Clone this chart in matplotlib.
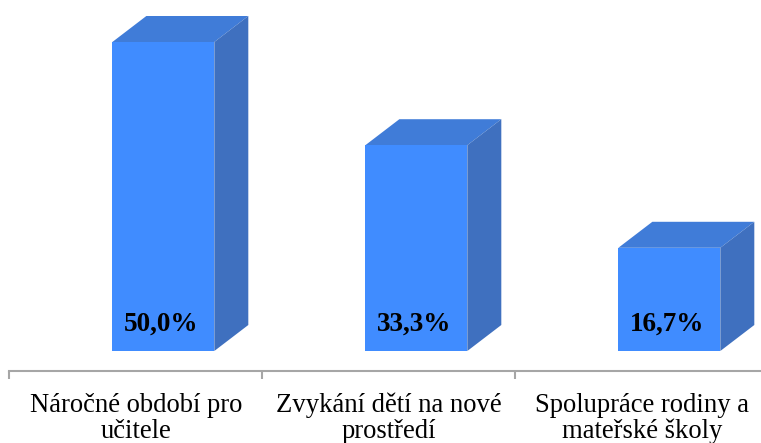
import matplotlib
matplotlib.use("Agg")
import matplotlib.pyplot as plt
from matplotlib.patches import Polygon

categories = ["Náročné období pro\nučitele", "Zvykání dětí na nové\nprostředí", "Spolupráce rodiny a\nmateřské školy"]
values = [50.0, 33.3, 16.7]
value_labels = ["50,0%", "33,3%", "16,7%"]

front_c = "#408CFF"
top_c = "#407CD8"
side_c = "#3F70BF"

W, H = 761, 443
fig = plt.figure(figsize=(W / 100, H / 100), dpi=100)
ax_bottom = 72 / H
ax = fig.add_axes([9 / W, ax_bottom, 1 - 9 / W, 1 - ax_bottom])

px_per_unit_y = 309 / 50.0
ymin = -20 / px_per_unit_y
ymax = 351 / px_per_unit_y
xmin = -0.5
xmax = -0.5 + (W - 9) / 253.0
ax.set_xlim(xmin, xmax)
ax.set_ylim(ymin, ymax)

off = 0.11
bw = 0.403
dx = 34 / 253.0
dy = 26 / px_per_unit_y

xs = list(range(len(values)))
ax.bar([x + off for x in xs], values, width=bw, color=front_c, zorder=3, linewidth=0)
for x, v, lab in zip(xs, values, value_labels):
    x0 = x + off - bw / 2
    x1 = x + off + bw / 2
    ax.add_patch(Polygon([(x0, v), (x1, v), (x1 + dx, v + dy), (x0 + dx, v + dy)],
                         closed=True, facecolor=top_c, edgecolor="none", zorder=2, clip_on=False))
    ax.add_patch(Polygon([(x1, 0), (x1 + dx, dy), (x1 + dx, v + dy), (x1, v)],
                         closed=True, facecolor=side_c, edgecolor="none", zorder=2, clip_on=False))
    ax.text(x + off - 0.01, 27 / px_per_unit_y, lab, ha="center", va="center",
            fontsize=19.5, fontweight="bold", family="Liberation Serif", zorder=5)

for s in ["top", "left", "right"]:
    ax.spines[s].set_visible(False)
ax.spines["bottom"].set_color("#a6a6a6")
ax.spines["bottom"].set_linewidth(1.5)
ax.spines["bottom"].set_position(("data", ymin))
ax.set_yticks([])
ax.set_xticks([-0.5, 0.5, 1.5])
ax.set_xticklabels([])
ax.tick_params(axis="x", direction="out", length=5.5, width=1.5, color="#a6a6a6")

baselines_px = [411.7, 438.0]
for x, c in zip(xs, categories):
    for line, bpx in zip(c.split("\n"), baselines_px):
        ax.text(x + 0.003, (351 - bpx) / px_per_unit_y, line, ha="center", va="baseline",
                fontsize=19.2, family="Liberation Serif", clip_on=False)

fig.savefig("out.png", dpi=100)
